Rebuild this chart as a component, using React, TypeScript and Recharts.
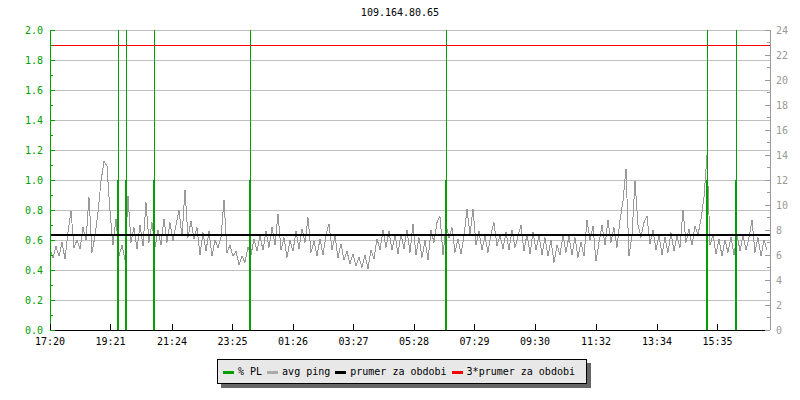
import { LineChart, Line, XAxis, YAxis, CartesianGrid, ReferenceLine } from "recharts";

const title = "109.164.80.65";

// x axis labels, one every ~2 hours, 24h window starting at 17:20
const timeLabels = [
  "17:20", "19:21", "21:24", "23:25", "01:26", "03:27",
  "05:28", "07:29", "09:30", "11:32", "13:34", "15:35",
];
const periodMinutes = 1440;

// avg ping (ms), one sample every 6 minutes
const pingStep = 6;
const pingValues = [
  6.4, 5.8, 6.7, 5.9, 7.0, 5.7, 7.8, 9.5, 6.6, 7.2,
  6.5, 8.2, 7.2, 10.6, 6.2, 7.5, 9.4, 11.9, 13.5, 13.1,
  9.5, 6.8, 8.9, 5.9, 6.8, 5.6, 10.7, 7.0, 8.2, 6.5,
  8.4, 6.7, 10.2, 7.0, 8.6, 6.6, 8.0, 6.8, 8.9, 7.0,
  8.6, 7.1, 8.4, 9.6, 7.5, 11.2, 7.4, 8.7, 7.3, 8.2,
  6.0, 7.8, 6.3, 7.9, 5.9, 7.2, 6.6, 7.4, 10.4, 6.2,
  6.8, 5.9, 6.3, 5.2, 5.9, 5.4, 6.6, 6.0, 7.3, 6.3,
  7.5, 6.4, 7.9, 6.6, 8.2, 6.8, 9.3, 6.4, 7.4, 5.8,
  7.2, 6.3, 7.9, 6.5, 8.1, 7.0, 9.0, 6.2, 7.1, 5.9,
  7.3, 6.0, 7.6, 8.5, 6.4, 7.5, 5.8, 6.9, 5.6, 6.3,
  5.3, 6.1, 5.1, 5.8, 5.0, 6.0, 4.9, 6.4, 5.7, 7.3,
  6.4, 8.0, 6.6, 7.9, 6.4, 7.6, 6.1, 7.7, 6.5, 8.0,
  6.2, 8.5, 6.0, 7.4, 5.8, 7.2, 5.6, 8.0, 7.0, 8.6,
  9.1, 6.0, 8.4, 7.4, 8.2, 6.2, 7.3, 6.1, 7.5, 9.7,
  7.6, 9.7, 6.8, 7.9, 6.4, 7.5, 6.2, 7.7, 8.6, 6.7,
  7.6, 6.5, 7.8, 6.4, 8.0, 6.6, 7.5, 8.4, 6.3, 7.7,
  6.1, 7.8, 6.4, 7.6, 6.0, 7.4, 5.9, 7.2, 5.4, 6.8,
  6.0, 7.6, 6.2, 7.5, 6.0, 7.4, 5.8, 7.0, 5.9, 8.8,
  7.2, 8.3, 5.5, 7.0, 8.4, 6.8, 8.8, 7.0, 8.2, 6.6,
  8.8, 10.3, 12.9, 5.9, 7.6, 11.9, 8.4, 7.4, 8.6, 9.1,
  6.9, 8.0, 6.4, 7.6, 6.0, 7.4, 6.2, 7.8, 6.3, 7.5,
  6.6, 9.6, 7.0, 8.1, 6.8, 8.3, 7.6, 8.9, 10.6, 14.0,
  6.8, 7.6, 6.1, 7.3, 5.9, 7.2, 6.2, 7.4, 6.0, 7.7,
  6.3, 7.6, 6.4, 7.4, 8.8, 6.2, 7.4, 5.9, 7.2, 6.4,
];

// packet loss events (minutes from start), each is two 2-minute samples
const plEventMinutes = [136, 152, 208, 400, 792, 1314, 1372];
const plFirstValues = [1, 1, 1, 1, 1, 1, 1];
const plSecondValues = [100, 100, 100, 100, 100, 100, 100];
const plSampleMinutes = 2;

const avgPing = 7.6;

const leftTicks = [0, 0.1, 0.2, 0.3, 0.4, 0.5, 0.6, 0.7, 0.8, 0.9, 1.0, 1.1, 1.2, 1.3, 1.4, 1.5, 1.6, 1.7, 1.8, 1.9, 2.0];
const gridValues = [0.2, 0.4, 0.6, 0.8, 1.0, 1.2, 1.4, 1.6, 1.8, 2.0];
const rightTicks = [0, 1, 2, 3, 4, 5, 6, 7, 8, 9, 10, 11, 12, 13, 14, 15, 16, 17, 18, 19, 20, 21, 22, 23, 24];

const GREEN = "#00a000";
const GRAY = "#999999";
const MONO = "'DejaVu Sans Mono', monospace";

const toMinutes = (label: string) => {
  const [h, m] = label.split(":").map(Number);
  const [h0, m0] = timeLabels[0].split(":").map(Number);
  return (h * 60 + m - (h0 * 60 + m0) + periodMinutes) % periodMinutes;
};
const xTicks = timeLabels.map(toMinutes);

const pingData = pingValues.map((v, i) => ({ t: i * pingStep, ping: v }));

const plData: { t: number; pl: number | null }[] = [];
plEventMinutes.forEach((t, i) => {
  const t1 = t - plSampleMinutes;
  plData.push({ t: t1, pl: 0 }, { t: t1, pl: plFirstValues[i] }, { t: t1, pl: null });
  plData.push({ t, pl: 0 }, { t, pl: plSecondValues[i] }, { t, pl: null });
});

function LeftTick({ x, y, payload }: any) {
  const v = payload.value;
  const major = Math.round(v * 10) % 2 === 0;
  return (
    <g>
      <line x1={x} x2={x + (major ? 5 : 3)} y1={y} y2={y} stroke={GREEN} />
      {major && (
        <text x={x - 7} y={y} textAnchor="end" dominantBaseline="central" fill={GREEN} fontSize={10} fontFamily={MONO}>
          {v.toFixed(1)}
        </text>
      )}
    </g>
  );
}

function RightTick({ x, y, payload }: any) {
  const v = payload.value;
  const major = v % 2 === 0;
  return (
    <g>
      <line x1={x - (major ? 5 : 3)} x2={x} y1={y} y2={y} stroke={GRAY} />
      {major && (
        <text x={x + 6} y={y} textAnchor="start" dominantBaseline="central" fill={GRAY} fontSize={10} fontFamily={MONO}>
          {v}
        </text>
      )}
    </g>
  );
}

function TimeTick({ x, y, index }: any) {
  return (
    <g>
      <line x1={x} x2={x} y1={y - 6} y2={y} stroke="#000" />
      <text x={x} y={y + 11} textAnchor="middle" dominantBaseline="central" fill="#000" fontSize={10} fontFamily={MONO}>
        {timeLabels[index]}
      </text>
    </g>
  );
}

const legendItems = [
  { name: "% PL", color: GREEN },
  { name: "avg ping", color: "#aaaaaa" },
  { name: "prumer za obdobi", color: "#000000" },
  { name: "3*prumer za obdobi", color: "#ff0000" },
];

export default function App() {
  return (
    <div style={{ position: "absolute", left: 0, top: 0, width: 800, height: 400, background: "#fff", shapeRendering: "crispEdges" }}>
      <div style={{ position: "absolute", top: 7, left: 0, width: 800, textAlign: "center", fontFamily: MONO, fontSize: 10, lineHeight: "12px" }}>
        {title}
      </div>
      <LineChart width={800} height={400} margin={{ top: 30, right: 0, bottom: 0, left: 0 }}>
        <CartesianGrid yAxisId="left" vertical={false} horizontalValues={gridValues} stroke="#c0c0c0" />
        <XAxis
          dataKey="t"
          type="number"
          domain={[0, periodMinutes]}
          ticks={xTicks}
          interval={0}
          height={70}
          tickSize={0}
          tickMargin={0}
          tickLine={false}
          axisLine={{ stroke: "#000" }}
          tick={<TimeTick />}
        />
        <YAxis
          yAxisId="left"
          orientation="left"
          width={50}
          domain={[0, 2]}
          allowDataOverflow
          ticks={leftTicks}
          interval={0}
          tickSize={0}
          tickMargin={0}
          tickLine={false}
          axisLine={{ stroke: GREEN }}
          tick={<LeftTick />}
        />
        <YAxis
          yAxisId="right"
          orientation="right"
          width={30}
          domain={[0, 24]}
          allowDataOverflow
          ticks={rightTicks}
          interval={0}
          tickSize={0}
          tickMargin={0}
          tickLine={false}
          axisLine={{ stroke: GRAY }}
          tick={<RightTick />}
        />
        <Line
          yAxisId="right"
          data={pingData}
          dataKey="ping"
          type="linear"
          stroke={GRAY}
          strokeWidth={1}
          dot={false}
          isAnimationActive={false}
        />
        <Line
          yAxisId="left"
          data={plData}
          dataKey="pl"
          type="linear"
          stroke={GREEN}
          strokeWidth={1}
          dot={false}
          connectNulls={false}
          isAnimationActive={false}
        />
        <ReferenceLine yAxisId="right" y={avgPing} stroke="#000" strokeWidth={2} />
        <ReferenceLine yAxisId="right" y={avgPing * 3} stroke="#ff0000" strokeWidth={1} />
      </LineChart>
      <div
        style={{
          position: "absolute",
          left: 217,
          top: 359,
          width: 363,
          height: 23,
          boxSizing: "content-box",
          border: "1px solid #000",
          background: "#e8e8e8",
          boxShadow: "4px 4px 0 #666",
          display: "flex",
          alignItems: "center",
          paddingLeft: 5,
          fontFamily: MONO,
          fontSize: 10,
          whiteSpace: "nowrap",
        }}
      >
        {legendItems.map((item) => (
          <span key={item.name} style={{ display: "inline-flex", alignItems: "center", marginRight: 5 }}>
            <span style={{ display: "inline-block", width: 11, height: 3, background: item.color, marginRight: 4, marginTop: 2 }} />
            <span>{item.name}</span>
          </span>
        ))}
      </div>
    </div>
  );
}
